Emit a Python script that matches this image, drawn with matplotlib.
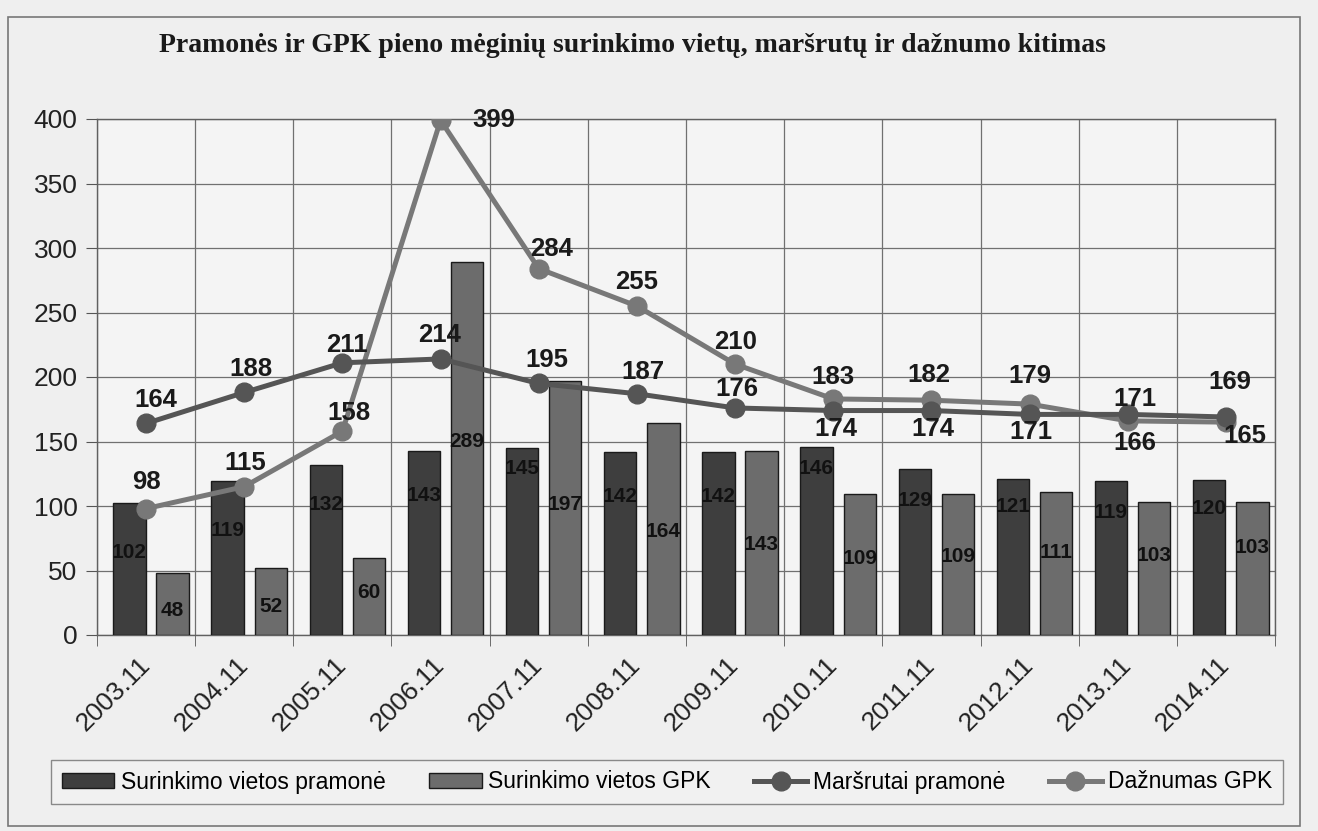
import numpy as np
import matplotlib
matplotlib.use("Agg")
import matplotlib.pyplot as plt
from matplotlib.patches import Rectangle

plt.rcParams['font.family'] = ['Liberation Sans', 'DejaVu Sans']

# data
years = ["2003.11", "2004.11", "2005.11", "2006.11", "2007.11", "2008.11",
         "2009.11", "2010.11", "2011.11", "2012.11", "2013.11", "2014.11"]
viet_pramone = [102, 119, 132, 143, 145, 142, 142, 146, 129, 121, 119, 120]
viet_gpk = [48, 52, 60, 289, 197, 164, 143, 109, 109, 111, 103, 103]
marsrutai = [164, 188, 211, 214, 195, 187, 176, 174, 174, 171, 171, 169]
daznumas = [98, 115, 158, 399, 284, 255, 210, 183, 182, 179, 166, 165]

# where the value labels sit (hand placed in the original)
lbl_y_pramone = [64, 81, 101, 108, 129, 107, 107, 129, 104, 100, 95, 98]
lbl_y_gpk = [19, 22, 33, 150, 101, 80, 70, 59, 61, 64, 62, 68]
off_marsrutai = [(7, 17), (5, 17), (3, 13), (-1, 17), (6, 17), (4, 16),
                 (1, 14), (2, -13), (1, -13), (1, -13), (5, 11), (3, 25)]
off_daznumas = [(0, 19), (1, 17), (5, 13), (38, 0), (9, 14), (0, 17),
                (0, 16), (0, 16), (-2, 18), (0, 20), (5, -16), (14, -10)]

c_dark = '#3e3e3e'
c_light = '#6c6c6c'
c_line1 = '#555555'
c_line2 = '#787878'

fig = plt.figure(figsize=(13.18, 8.31), dpi=100, facecolor='#efefef')
ax = fig.add_axes([97 / 1318, 1 - 635 / 831, 1178 / 1318, 516 / 831])
ax.set_facecolor('#f4f4f4')

x = np.arange(len(years))
w = 0.33
b1 = ax.bar(x - 0.17, viet_pramone, w, color=c_dark, edgecolor='#1a1a1a',
            linewidth=1, label='Surinkimo vietos pramonė', zorder=3)
b2 = ax.bar(x + 0.27, viet_gpk, w, color=c_light, edgecolor='#1a1a1a',
            linewidth=1, label='Surinkimo vietos GPK', zorder=3)

l1, = ax.plot(x, marsrutai, color=c_line1, lw=3.6, marker='o', ms=13.5,
              mfc=c_line1, mec=c_line1, label='Maršrutai pramonė', zorder=5)
l2, = ax.plot(x, daznumas, color=c_line2, lw=3.6, marker='o', ms=13.5,
              mfc=c_line2, mec=c_line2, label='Dažnumas GPK', zorder=4)

for i in range(len(years)):
    ax.text(x[i] - 0.17, lbl_y_pramone[i], str(viet_pramone[i]), ha='center',
            va='center', fontsize=15, fontweight='bold', color='#111111', zorder=6)
    ax.text(x[i] + 0.27, lbl_y_gpk[i], str(viet_gpk[i]), ha='center',
            va='center', fontsize=15, fontweight='bold', color='#111111', zorder=6)
    ax.annotate(str(marsrutai[i]), (x[i], marsrutai[i]), xytext=off_marsrutai[i],
                textcoords='offset points', ha='center', va='center',
                fontsize=18.5, fontweight='bold', color='#1a1a1a', zorder=7)
    ax.annotate(str(daznumas[i]), (x[i], daznumas[i]), xytext=off_daznumas[i],
                textcoords='offset points', ha='center', va='center',
                fontsize=18.5, fontweight='bold', color='#1a1a1a', zorder=7)

ax.set_xlim(-0.5, len(years) - 0.5)
ax.set_ylim(0, 400)
ax.set_yticks(np.arange(0, 401, 50))
ax.set_xticks(x)
ax.set_xticklabels(years, rotation=45, ha='right', va='center',
                   rotation_mode='anchor', fontsize=19, color='#222222')
ax.set_xticks(np.arange(-0.5, len(years)), minor=True)
ax.tick_params(axis='x', which='major', length=0, pad=19)
ax.tick_params(axis='x', which='minor', length=8, color='#555555', direction='out')
ax.tick_params(axis='y', length=8, color='#555555', labelsize=19,
               labelcolor='#222222', pad=6)
ax.grid(True, axis='y', color='#707070', lw=0.9, zorder=0)
ax.grid(True, axis='x', which='minor', color='#707070', lw=0.9, zorder=0)
for s in ax.spines.values():
    s.set_color('#606060')
    s.set_linewidth(1)

fig.text(0.48, 1 - 45 / 831,
         "Pramonės ir GPK pieno mėginių surinkimo vietų, maršrutų ir dažnumo kitimas",
         ha='center', va='center', fontsize=20, fontweight='bold',
         family='Liberation Serif', color='#1a1a1a')

leg = fig.legend(handles=[b1, b2, l1, l2], loc='center',
                 bbox_to_anchor=(667 / 1318, 1 - 782 / 831), ncol=4,
                 fontsize=16.5, frameon=True, fancybox=False, edgecolor='#707070',
                 facecolor='#f2f2f2', handlelength=2.3, handleheight=0.6,
                 columnspacing=1.9, borderpad=0.45, handletextpad=0.28)
leg.get_frame().set_linewidth(1)

# outer chart frame
fig.patches.append(Rectangle((8 / 1318, 1 - 826 / 831), 1292 / 1318, 809 / 831,
                             transform=fig.transFigure, fill=False,
                             edgecolor='#777777', lw=1.2, zorder=0))

fig.savefig('out.png', dpi=100, facecolor=fig.get_facecolor())
